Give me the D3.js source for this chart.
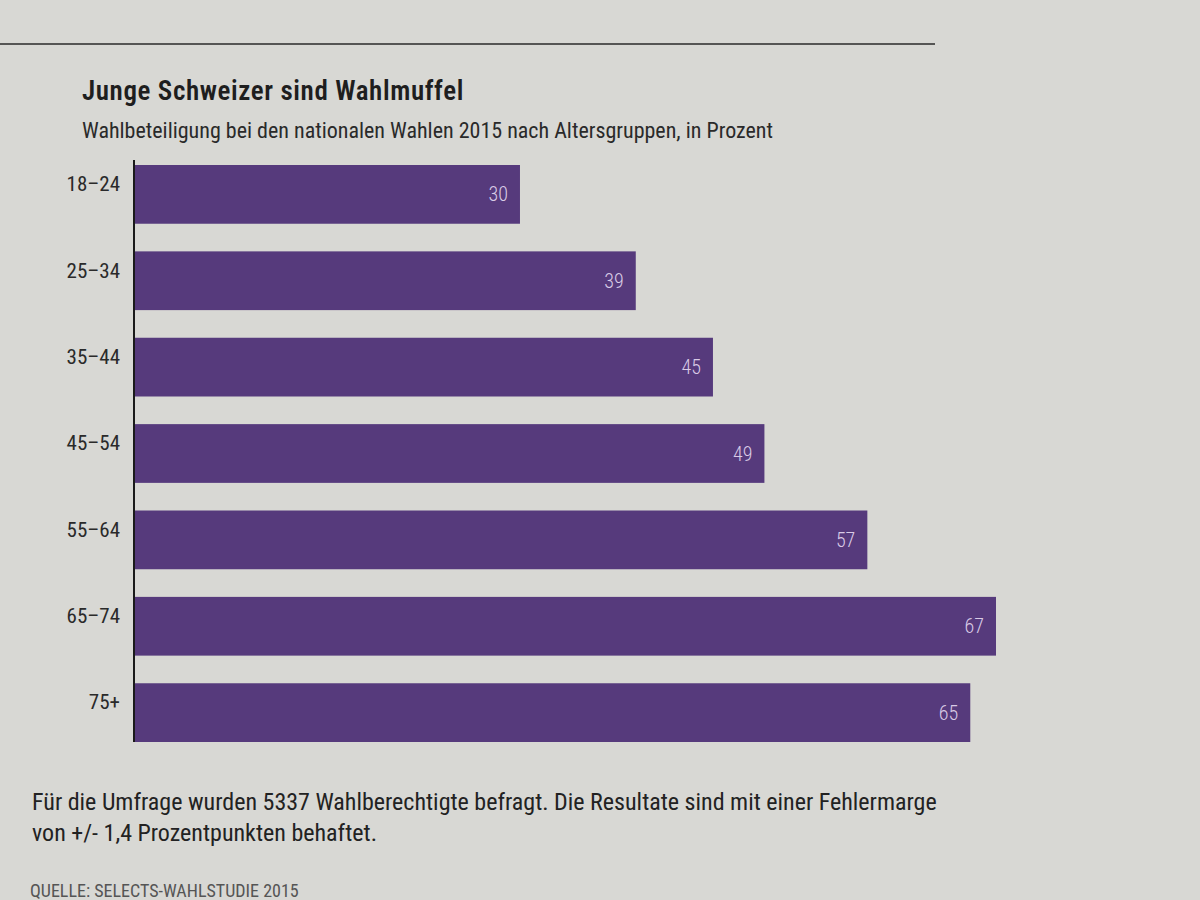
<!DOCTYPE html>
<html>
<head>
<meta charset="utf-8">
<script src="https://cdn.jsdelivr.net/npm/d3@7"></script>
<style>
  html, body { margin: 0; padding: 0; background: #d8d8d4; }
  svg { display: block; }
  text { font-family: "Liberation Sans Narrow", "Roboto Condensed", "Arial Narrow", "Liberation Sans", sans-serif; }
</style>
</head>
<body>
<svg id="chart" width="1200" height="900"></svg>
<script>
const categories = ["18–24", "25–34", "35–44", "45–54", "55–64", "65–74", "75+"];
const values = [30, 39, 45, 49, 57, 67, 65];
const title = "Junge Schweizer sind Wahlmuffel";
const subtitle = "Wahlbeteiligung bei den nationalen Wahlen 2015 nach Altersgruppen, in Prozent";
const noteLines = [
  "Für die Umfrage wurden 5337 Wahlberechtigte befragt. Die Resultate sind mit einer Fehlermarge",
  "von +/- 1,4 Prozentpunkten behaftet."
];
const source = "QUELLE: SELECTS-WAHLSTUDIE 2015";

const svg = d3.select("#chart");
const plotLeft = 134, plotTop = 165, plotBottom = 742;

// paper background
svg.append("rect").attr("width", 1200).attr("height", 900).attr("fill", "#d8d8d4");
// top rule
svg.append("line").attr("x1", 0).attr("x2", 935).attr("y1", 44).attr("y2", 44)
  .attr("stroke", "#2a2a2a").attr("stroke-width", 1.5);

svg.append("text").attr("x", 82).attr("y", 100)
  .attr("font-size", 27).attr("font-weight", 600).attr("fill", "#1e1e1e")
  .attr("letter-spacing", 0.6).text(title);
svg.append("text").attr("x", 82).attr("y", 138)
  .attr("font-size", 22).attr("fill", "#2a2a2a").text(subtitle);

const x = d3.scaleLinear().domain([0, 67]).range([plotLeft, plotLeft + 862]);
const y = d3.scaleBand().domain(categories).range([plotTop, plotBottom]).paddingInner(0.32).paddingOuter(0);

const data = categories.map((c, i) => ({ cat: c, val: values[i] }));

svg.append("g").selectAll("rect").data(data).join("rect")
  .attr("x", x(0))
  .attr("y", d => y(d.cat))
  .attr("width", d => x(d.val) - x(0))
  .attr("height", y.bandwidth())
  .attr("fill", "#563a7c");

svg.append("g").selectAll("text").data(data).join("text")
  .attr("x", d => x(d.val) - 12)
  .attr("y", d => y(d.cat) + y.bandwidth() / 2 + 7)
  .attr("text-anchor", "end")
  .attr("font-size", 20)
  .attr("font-weight", 300)
  .attr("fill", "#d9cbe6")
  .text(d => d.val);

// category axis
const yAxis = d3.axisLeft(y).tickSize(0).tickPadding(14);
const g = svg.append("g").attr("transform", `translate(${plotLeft},0)`).call(yAxis);
g.select(".domain").attr("stroke", "#1a1a1a").attr("stroke-width", 2)
  .attr("d", `M0,${plotTop - 5}V${plotBottom}`);
g.selectAll(".tick text")
  .attr("font-size", 21).attr("fill", "#2a2a2a")
  .attr("dy", "-0.15em")
  .style("font-family", "\"Liberation Sans Narrow\", \"Roboto Condensed\", \"Arial Narrow\", sans-serif");

// footnote
noteLines.forEach((t, i) => {
  svg.append("text").attr("x", 32).attr("y", 810 + i * 31)
    .attr("font-size", 24).attr("fill", "#222").text(t);
});
svg.append("text").attr("x", 30).attr("y", 897)
  .attr("font-size", 18).attr("fill", "#555").text(source);
</script>
</body>
</html>
